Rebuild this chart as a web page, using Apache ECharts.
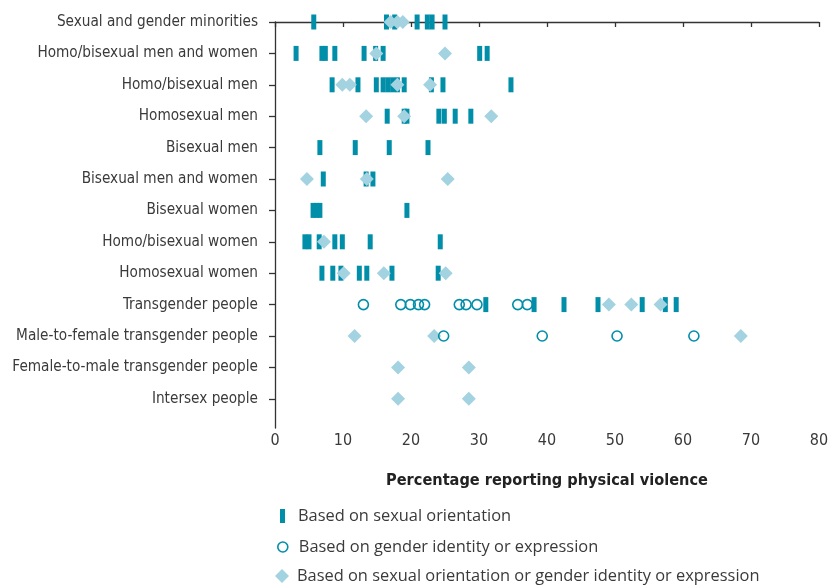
<!DOCTYPE html>
<html><head><meta charset="utf-8">
<script src="https://cdn.jsdelivr.net/npm/echarts@6/dist/echarts.min.js"></script>
<style>html,body{margin:0;padding:0;background:#fff}#c{width:836px;height:587px}</style>
</head><body><div id="c"></div>
<script>
const categories = [
  'Sexual and gender minorities',
  'Homo/bisexual men and women',
  'Homo/bisexual men',
  'Homosexual men',
  'Bisexual men',
  'Bisexual men and women',
  'Bisexual women',
  'Homo/bisexual women',
  'Homosexual women',
  'Transgender people',
  'Male-to-female transgender people',
  'Female-to-male transgender people',
  'Intersex people'
];
// Based on sexual orientation (bars), per category
const orientationValues = [
  [5.7, 16.4, 17.6, 20.9, 22.4, 23.1, 25.0],
  [3.1, 6.9, 7.4, 8.8, 13.1, 14.8, 15.9, 30.1, 31.2],
  [8.4, 12.2, 14.9, 15.9, 16.6, 17.3, 18.0, 19.0, 23.0, 24.7, 34.7],
  [16.5, 19.0, 19.4, 24.1, 24.9, 26.5, 28.8],
  [6.6, 11.8, 16.8, 22.5],
  [7.1, 13.4, 14.4],
  [5.6, 6.1, 6.6, 19.4],
  [4.4, 5.0, 6.5, 8.8, 9.9, 14.0, 24.3],
  [6.9, 8.5, 9.7, 12.4, 13.5, 17.2, 24.0],
  [31.0, 38.1, 42.5, 47.5, 54.0, 57.4, 59.0],
  [],
  [],
  []
];
// Based on gender identity or expression (circles)
const identityValues = [
  [], [], [], [], [], [], [], [], [],
  [13.0, 18.5, 19.9, 21.1, 22.0, 27.1, 28.1, 29.7, 35.7, 37.1],
  [24.8, 39.3, 50.3, 61.6],
  [],
  []
];
// Based on sexual orientation or gender identity or expression (diamonds)
const combinedValues = [
  [17.0, 18.0, 18.8],
  [14.9, 25.0],
  [9.9, 11.0, 18.0, 22.8],
  [13.4, 19.0, 31.8],
  [],
  [4.7, 13.5, 25.4],
  [],
  [7.2],
  [10.1, 16.0, 25.1],
  [49.1, 52.4, 56.7],
  [11.7, 23.4, 68.5],
  [18.1, 28.5],
  [18.1, 28.5]
];
const xMin = 0, xMax = 80, xStep = 10;
const seriesNames = [
  'Based on sexual orientation',
  'Based on gender identity or expression',
  'Based on sexual orientation or gender identity or expression'
];
const axisTitle = 'Percentage reporting physical violence';

function toPoints(rows) {
  const out = [];
  rows.forEach((vals, i) => vals.forEach(v => out.push([v, i])));
  return out;
}
const rowIdx = categories.map((_, i) => i);
const TEAL = '#008ea9', LIGHT = '#a3d2e0', TXT = '#3a3a3a';
const narrow = "'Liberation Sans Narrow', 'DejaVu Sans Condensed', sans-serif";
const legendFont = "'Open Sans', 'Noto Sans', sans-serif";

const chart = echarts.init(document.getElementById('c'), null, {renderer: 'canvas'});
chart.setOption({
  animation: false,
  backgroundColor: '#fff',
  grid: {left: 275, right: 17, top: 22, bottom: 159, containLabel: false},
  xAxis: {
    type: 'value', min: xMin, max: xMax, interval: xStep,
    position: 'bottom',
    name: axisTitle, nameLocation: 'middle', nameGap: 45,
    nameTextStyle: {fontFamily: narrow, fontWeight: 'bold', fontSize: 16.2, color: '#222'},
    axisLine: {show: true, lineStyle: {color: '#333', width: 1.3}},
    axisTick: {show: true, length: 5, lineStyle: {color: '#333', width: 1.3}},
    axisLabel: {fontFamily: narrow, fontSize: 16, color: TXT, margin: 5},
    splitLine: {show: false}
  },
  yAxis: {
    type: 'value', inverse: true, min: 0, max: 12.93, interval: 1,
    axisLine: {show: true, onZero: false, lineStyle: {color: '#333', width: 1.3}},
    axisTick: {show: true, length: 6, customValues: rowIdx, lineStyle: {color: '#333', width: 1.3}},
    axisLabel: {
      customValues: rowIdx,
      fontFamily: narrow, fontSize: 15.2, color: TXT, margin: 17,
      formatter: v => categories[Math.round(v)] || ''
    },
    splitLine: {show: false}
  },
  legend: [
    {data: [seriesNames[0]], orient: 'vertical', left: 280, top: 508, padding: 0,
     itemWidth: 5, itemHeight: 14, icon: 'rect',
     textStyle: {fontFamily: legendFont, fontSize: 16.4, color: TXT, padding: [0,0,0,8]}},
    {data: [seriesNames[1]], orient: 'vertical', left: 277, top: 539, padding: 0,
     itemWidth: 10, itemHeight: 10, icon: 'circle',
     itemStyle: {color: 'rgba(0,0,0,0)', borderColor: TEAL, borderWidth: 1.6},
     textStyle: {fontFamily: legendFont, fontSize: 16.4, color: TXT, padding: [0,0,0,6]}},
    {data: [seriesNames[2]], orient: 'vertical', left: 275, top: 568, padding: 0,
     itemWidth: 14, itemHeight: 14, icon: 'diamond',
     textStyle: {fontFamily: legendFont, fontSize: 16.4, color: TXT, padding: [0,0,0,3]}}
  ],
  series: [
    {name: seriesNames[0], type: 'scatter', data: toPoints(orientationValues),
     symbol: 'rect', symbolSize: [5, 15], itemStyle: {color: TEAL, opacity: 1}, z: 2},
    {name: seriesNames[2], type: 'scatter', data: toPoints(combinedValues),
     symbol: 'diamond', symbolSize: 14, itemStyle: {color: LIGHT, opacity: 1}, z: 3},
    {name: seriesNames[1], type: 'scatter', data: toPoints(identityValues),
     symbol: 'circle', symbolSize: 10,
     itemStyle: {color: 'rgba(0,0,0,0)', borderColor: TEAL, borderWidth: 1.6, opacity: 1}, z: 4}
  ]
});
</script></body></html>
